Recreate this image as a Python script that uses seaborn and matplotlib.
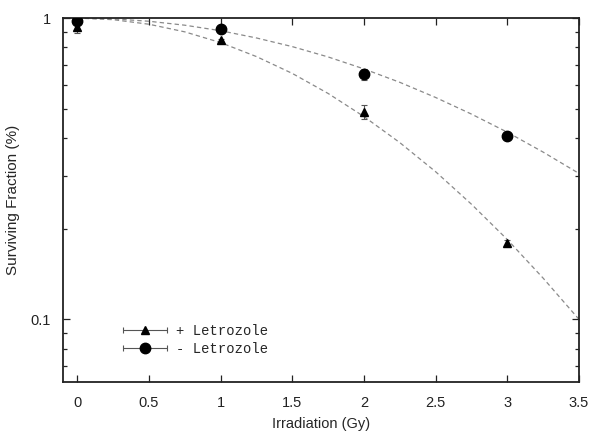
import matplotlib
matplotlib.use("Agg")
import matplotlib.pyplot as plt
from matplotlib import ticker
from matplotlib.legend_handler import HandlerErrorbar
import numpy as np
import pandas as pd
import seaborn as sns

# %% DATA
dose = [0, 1, 2, 3]
sf_plus = [0.933, 0.845, 0.489, 0.179]  # + Letrozole
err_plus = [0.040, 0.010, 0.025, 0.004]
sf_minus = [0.977, 0.919, 0.652, 0.405]  # - Letrozole
err_minus = [0.012, 0.010, 0.027, 0.008]

# fitted curves
fit_dose = [0, 0.25, 0.5, 0.75, 1.0, 1.25, 1.5, 1.75, 2.0, 2.25, 2.5, 2.75, 3.0, 3.25, 3.5]
fit_plus = [1.0, 0.988, 0.954, 0.900, 0.829, 0.745, 0.655, 0.562, 0.471, 0.386, 0.309, 0.241, 0.184, 0.137, 0.100]
fit_minus = [1.0, 0.994, 0.976, 0.947, 0.908, 0.859, 0.804, 0.743, 0.678, 0.612, 0.545, 0.480, 0.418, 0.359, 0.305]

x_ticks = [0, 0.5, 1, 1.5, 2, 2.5, 3, 3.5]
x_tick_labels = ["0", "0.5", "1", "1.5", "2", "2.5", "3", "3.5"]
y_ticks = [0.1, 1]
y_tick_labels = ["0.1", "1"]

fits = pd.DataFrame({"dose": fit_dose, "plus": fit_plus, "minus": fit_minus})

# %% VISUALISE
sns.set_style("ticks")
plt.rcParams["font.family"] = ["Liberation Sans", "DejaVu Sans"]

fig = plt.figure(figsize=(6, 4.41), dpi=100)
ax = fig.add_axes([0.105, 0.134, 0.860, 0.825])

curve_kw = dict(color="#8a8a8a", linewidth=0.9, linestyle=(0, (3.5, 2.5)))
sns.lineplot(data=fits, x="dose", y="minus", ax=ax, **curve_kw)
sns.lineplot(data=fits, x="dose", y="plus", ax=ax, **curve_kw)

eb_kw = dict(color="black", ecolor="#555555", elinewidth=0.8, capsize=2.5,
             capthick=0.8, linestyle="none", zorder=3)
ax.errorbar(dose, sf_plus, yerr=err_plus, fmt="^", markersize=6, **eb_kw)
ax.errorbar(dose, sf_minus, yerr=err_minus, fmt="o", markersize=7.5, **eb_kw)

# legend proxies with horizontal bars (gnuplot style)
h_plus = ax.errorbar([np.nan], [np.nan], xerr=[1], fmt="^", markersize=6,
                     label="+ Letrozole", **eb_kw)
h_minus = ax.errorbar([np.nan], [np.nan], xerr=[1], fmt="o", markersize=7.5,
                      label="- Letrozole", **eb_kw)

ax.set_yscale("log")
ax.set_xlim(-0.1, 3.5)
ax.set_ylim(0.062, 1.0)

ax.set_xticks(x_ticks)
ax.set_xticklabels(x_tick_labels)
ax.yaxis.set_major_locator(ticker.FixedLocator(y_ticks))
ax.yaxis.set_major_formatter(ticker.FixedFormatter(y_tick_labels))
ax.yaxis.set_minor_locator(ticker.LogLocator(base=10.0, subs=np.arange(2, 10), numticks=20))
ax.yaxis.set_minor_formatter(ticker.NullFormatter())

ax.tick_params(which="both", direction="in", top=True, right=True,
               labelsize=10.5, colors="#222222", width=0.9)
ax.tick_params(which="major", length=5)
ax.tick_params(axis="x", which="major", pad=10)
ax.tick_params(axis="y", which="major", pad=9)
ax.tick_params(which="minor", length=3)
for s in ax.spines.values():
    s.set_linewidth(1.3)
    s.set_color("#222222")
    s.set_visible(True)

ax.set_xlabel("Irradiation (Gy)", fontsize=10.5)
ax.set_ylabel("Surviving Fraction (%)", fontsize=11)
ax.xaxis.set_label_coords(0.5, -0.096)
ax.yaxis.set_label_coords(-0.083, 0.5)

ax.legend(handles=[h_plus, h_minus], loc="upper left",
          bbox_to_anchor=(0.116, 0.16), frameon=False, borderpad=0,
          borderaxespad=0, handlelength=3.2, handletextpad=0.65,
          labelspacing=0.3,
          prop=dict(family="Liberation Mono", size=10),
          handler_map={type(h_plus): HandlerErrorbar(xerr_size=1.58)})

fig.savefig("out.png", dpi=100)
